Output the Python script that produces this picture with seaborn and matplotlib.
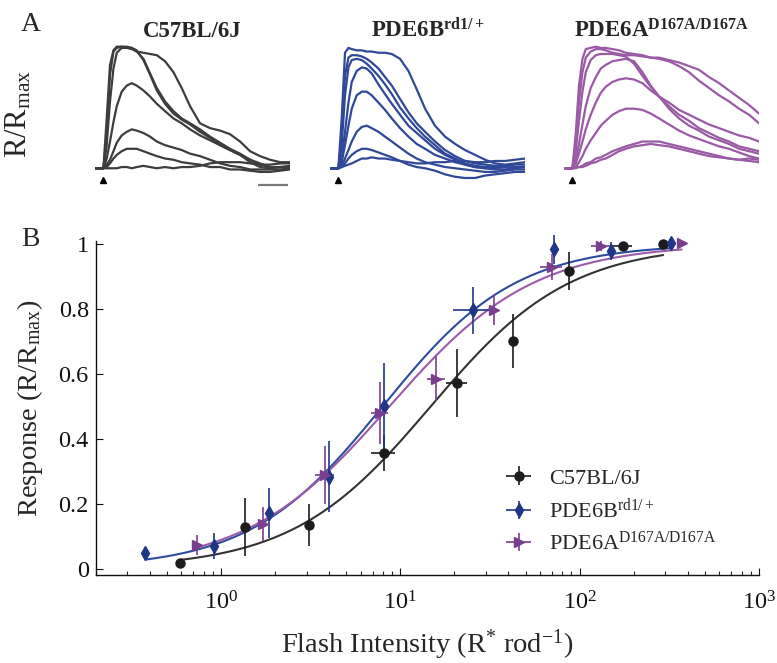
import numpy as np
import pandas as pd
import matplotlib
matplotlib.use("Agg")
import matplotlib.pyplot as plt
from matplotlib.container import ErrorbarContainer
from matplotlib.legend_handler import HandlerErrorbar
import seaborn as sns

# ---------------- Panel A: normalized flash responses (R/Rmax) ----------------
trace_time_ms = [-56, 0, 22, 44, 67, 89, 122, 156, 189, 222, 267, 311, 356, 411,
                 467, 522, 578, 644, 711, 778, 844, 911, 978, 1044, 1111, 1178, 1244]

c57_traces = [
    [0, 0, 0.27, 0.77, 0.96, 0.99, 1.00, 0.99, 0.98, 0.96, 0.95, 0.94, 0.93, 0.88, 0.79, 0.66, 0.51, 0.37, 0.33, 0.31, 0.28, 0.22, 0.14, 0.10, 0.07, 0.05, 0.05],
    [0, 0, 0.41, 0.85, 0.97, 1.00, 1.00, 1.00, 0.99, 0.97, 0.89, 0.77, 0.64, 0.53, 0.45, 0.40, 0.36, 0.30, 0.25, 0.19, 0.15, 0.11, 0.05, 0.01, 0.00, 0.01, 0.01],
    [0, 0, 0.19, 0.55, 0.82, 0.95, 0.99, 0.99, 0.99, 0.96, 0.90, 0.78, 0.66, 0.55, 0.47, 0.41, 0.37, 0.32, 0.26, 0.21, 0.16, 0.12, 0.07, 0.03, 0.01, 0.01, 0.02],
    [0, 0, 0.08, 0.22, 0.38, 0.51, 0.63, 0.68, 0.70, 0.68, 0.64, 0.59, 0.53, 0.47, 0.41, 0.37, 0.32, 0.27, 0.23, 0.19, 0.15, 0.11, 0.07, 0.04, 0.01, 0.01, 0.01],
    [0, 0, 0.03, 0.07, 0.14, 0.21, 0.27, 0.30, 0.32, 0.31, 0.29, 0.26, 0.22, 0.19, 0.17, 0.15, 0.12, 0.10, 0.07, 0.04, 0.02, 0.01, -0.01, -0.01, -0.01, -0.01, 0.00],
    [0, 0, 0.01, 0.04, 0.08, 0.11, 0.14, 0.16, 0.16, 0.16, 0.14, 0.12, 0.10, 0.08, 0.07, 0.05, 0.04, 0.03, 0.01, 0.01, -0.01, -0.01, -0.02, -0.03, -0.03, -0.02, -0.01],
    [0, 0, 0, 0, 0, 0, 0.01, 0.01, 0, 0.01, 0.02, 0.01, 0, 0.01, 0, 0.01, 0.01, 0.02, 0.04, 0.05, 0.05, 0.05, 0.04, 0.03, 0.03, 0.04, 0.04],
]

pde6b_traces = [
    [0, 0, 0.41, 0.95, 0.99, 0.98, 0.97, 0.97, 0.96, 0.96, 0.95, 0.95, 0.94, 0.90, 0.80, 0.65, 0.49, 0.35, 0.26, 0.20, 0.15, 0.11, 0.07, 0.04, 0.03, 0.04, 0.05],
    [0, 0, 0.27, 0.76, 0.91, 0.93, 0.93, 0.92, 0.90, 0.87, 0.82, 0.75, 0.68, 0.57, 0.46, 0.37, 0.30, 0.22, 0.15, 0.10, 0.06, 0.04, 0.03, 0.02, 0.02, 0.03, 0.03],
    [0, 0, 0.19, 0.60, 0.83, 0.89, 0.90, 0.89, 0.86, 0.82, 0.76, 0.69, 0.61, 0.50, 0.41, 0.33, 0.26, 0.19, 0.12, 0.08, 0.04, 0.02, 0.01, 0.01, 0.01, 0.01, 0.01],
    [0, 0, 0.08, 0.30, 0.54, 0.71, 0.80, 0.83, 0.82, 0.78, 0.69, 0.61, 0.53, 0.44, 0.35, 0.29, 0.23, 0.16, 0.11, 0.07, 0.03, 0.01, 0, 0, 0.01, 0.01, 0.01],
    [0, 0, 0.05, 0.19, 0.35, 0.49, 0.60, 0.63, 0.63, 0.60, 0.54, 0.48, 0.41, 0.33, 0.26, 0.20, 0.16, 0.11, 0.08, 0.05, 0.03, 0.01, 0, -0.01, -0.01, 0, 0.01],
    [0, 0, 0.02, 0.08, 0.15, 0.22, 0.30, 0.34, 0.35, 0.33, 0.30, 0.26, 0.22, 0.17, 0.12, 0.08, 0.05, 0.03, 0.01, 0, -0.01, -0.02, -0.03, -0.03, -0.02, -0.01, -0.01],
    [0, 0, 0.01, 0.04, 0.08, 0.11, 0.14, 0.16, 0.16, 0.15, 0.13, 0.11, 0.09, 0.06, 0.03, 0.01, 0, -0.02, -0.05, -0.07, -0.08, -0.08, -0.06, -0.05, -0.04, -0.03, -0.03],
    [0, 0, 0.01, 0.02, 0.03, 0.04, 0.06, 0.08, 0.08, 0.09, 0.08, 0.08, 0.07, 0.06, 0.05, 0.04, 0.04, 0.05, 0.05, 0.06, 0.06, 0.05, 0.05, 0.06, 0.06, 0.07, 0.08],
]

pde6a_traces = [
    [0, 0, 0.28, 0.68, 0.90, 0.98, 0.99, 1.00, 0.99, 0.99, 0.98, 0.97, 0.95, 0.94, 0.93, 0.91, 0.91, 0.89, 0.87, 0.84, 0.81, 0.75, 0.70, 0.64, 0.58, 0.52, 0.45],
    [0, 0, 0.20, 0.55, 0.79, 0.91, 0.96, 0.98, 0.98, 0.97, 0.95, 0.94, 0.93, 0.93, 0.92, 0.91, 0.90, 0.88, 0.84, 0.79, 0.72, 0.66, 0.60, 0.55, 0.49, 0.44, 0.37],
    [0, 0, 0.14, 0.39, 0.63, 0.79, 0.89, 0.93, 0.94, 0.94, 0.94, 0.93, 0.92, 0.86, 0.76, 0.67, 0.59, 0.51, 0.44, 0.39, 0.33, 0.29, 0.25, 0.22, 0.18, 0.16, 0.14],
    [0, 0, 0.06, 0.20, 0.36, 0.51, 0.66, 0.75, 0.82, 0.85, 0.88, 0.89, 0.90, 0.88, 0.79, 0.68, 0.59, 0.49, 0.41, 0.35, 0.31, 0.26, 0.23, 0.20, 0.16, 0.14, 0.12],
    [0, 0, 0.04, 0.12, 0.22, 0.32, 0.44, 0.54, 0.62, 0.67, 0.71, 0.73, 0.74, 0.73, 0.70, 0.64, 0.59, 0.54, 0.48, 0.44, 0.40, 0.36, 0.33, 0.30, 0.27, 0.25, 0.22],
    [0, 0, 0.01, 0.05, 0.10, 0.16, 0.23, 0.29, 0.35, 0.39, 0.44, 0.47, 0.49, 0.49, 0.48, 0.45, 0.41, 0.36, 0.31, 0.27, 0.24, 0.21, 0.18, 0.16, 0.13, 0.10, 0.08],
    [0, 0, 0.01, 0.01, 0.02, 0.04, 0.05, 0.08, 0.09, 0.11, 0.14, 0.16, 0.18, 0.20, 0.22, 0.22, 0.22, 0.20, 0.18, 0.16, 0.14, 0.12, 0.10, 0.08, 0.07, 0.06, 0.05],
    [0, 0, 0, 0.01, 0.01, 0.02, 0.04, 0.05, 0.07, 0.08, 0.11, 0.14, 0.16, 0.18, 0.19, 0.20, 0.19, 0.18, 0.16, 0.14, 0.12, 0.10, 0.09, 0.08, 0.07, 0.08, 0.07],
]

scale_bar_ms = [1033, 1233]

# ---------------- Panel B: intensity-response relations ----------------
strains = ["C57BL/6J", "PDE6B$^{\\mathrm{rd1/+}}$", "PDE6A$^{\\mathrm{D167A/D167A}}$"]
titles = ["C57BL/6J", "PDE6B$^{\\mathbf{rd1/+}}$", "PDE6A$^{\\mathbf{D167A/D167A}}$"]

c57_int = [0.59, 1.36, 3.1, 8.1, 20.8, 42.3, 86.7, 175, 292]
c57_resp = [0.017, 0.128, 0.134, 0.355, 0.571, 0.702, 0.917, 0.994, 1.0]
c57_resp_err = [0, 0.09, 0.065, 0.056, 0.105, 0.083, 0.059, 0.01, 0]
c57_int_err = [0, 0, 0, 1.25, 2.8, 0, 0, 21, 0]

pde6b_int = [0.378, 0.918, 1.84, 3.98, 8.13, 25.5, 71.8, 150, 321]
pde6b_resp = [0.047, 0.07, 0.171, 0.283, 0.502, 0.795, 0.984, 0.979, 1.002]
pde6b_resp_err = [0, 0.04, 0.078, 0.11, 0.13, 0.072, 0.045, 0.027, 0]
pde6b_int_err = [0, 0, 0, 0, 0, 5.9, 0, 0, 0]

pde6a_int = [0.733, 1.72, 3.8, 7.7, 15.9, 33.4, 69.7, 132, 370]
pde6a_resp = [0.073, 0.138, 0.288, 0.48, 0.585, 0.797, 0.928, 0.994, 1.002]
pde6a_resp_err = [0.03, 0.053, 0.088, 0.095, 0.07, 0.046, 0.04, 0.015, 0]
pde6a_int_err = [0, 0, 0.44, 0.8, 1.85, 0, 10, 16.5, 0]

# Hill fits: R/Rmax = I^n / (I^n + I_half^n)
fit_half_sat = [14.8, 7.98, 8.7]
fit_hill_n = [1.12, 1.17, 1.08]

y_ticks = [0, 0.2, 0.4, 0.6, 0.8, 1.0]
y_tick_labels = ["0", "0.2", "0.4", "0.6", "0.8", "1"]
x_ticks = [1, 10, 100, 1000]

trace_colors = ["#3d3d3d", "#2f4898", "#9a5aa6"]
marker_colors = ["#1c1c1c", "#1f3687", "#7a3e8e"]
curve_colors = ["#333333", "#2e4c9e", "#9c5ba9"]
markers = ["o", "d", ">"]
marker_sizes = [6.5, 7.5, 7.5]

# ---------------- style ----------------
sns.set_style("ticks")
plt.rcParams["font.family"] = ["Liberation Serif", "DejaVu Serif"]
plt.rcParams["mathtext.fontset"] = "custom"
plt.rcParams["mathtext.rm"] = "Liberation Serif"
plt.rcParams["mathtext.it"] = "Liberation Serif:italic"
plt.rcParams["mathtext.bf"] = "Liberation Serif:bold"
plt.rcParams["axes.unicode_minus"] = False

W, H = 777, 663
fig = plt.figure(figsize=(W / 100, H / 100), dpi=100)


def fx(px):
    return px / W


def fy(py):
    return 1 - py / H


# ---------------- panel A ----------------
panel_left = [95, 330, 564]
panel_w = 195
a_top, a_bot = 40.6, 186.5
for i, traces in enumerate([c57_traces, pde6b_traces, pde6a_traces]):
    ax = fig.add_axes([fx(panel_left[i]), fy(a_bot), panel_w / W, (a_bot - a_top) / H])
    rows = []
    for k, tr in enumerate(traces):
        for t, r in zip(trace_time_ms, tr):
            rows.append({"time": t, "response": r, "trace": k})
    df = pd.DataFrame(rows)
    sns.lineplot(data=df, x="time", y="response", units="trace", estimator=None,
                 color=trace_colors[i], lw=1.6, ax=ax, legend=False)
    # flash marker
    ax.plot([0], [-0.097], marker="^", ms=4.5, color="black", ls="none", clip_on=False)
    if i == 0:
        ax.plot(scale_bar_ms, [-0.137, -0.137], color="#7a7a7a", lw=1.6,
                solid_capstyle="butt", clip_on=False)
    ax.set_xlim(trace_time_ms[0], trace_time_ms[-1])
    ax.set_ylim(-0.15, 1.05)
    ax.axis("off")
    fig.text(fx(panel_left[i] + panel_w / 2), fy(37), titles[i], ha="center",
             va="baseline", fontsize=16.5, fontweight="bold")

fig.text(fx(21), fy(30.7), "A", fontsize=20, ha="left", va="baseline")
fig.text(fx(19), fy(114), "R/R$_{\\mathrm{max}}$", fontsize=22, rotation=90,
         ha="center", va="center")

# ---------------- panel B ----------------
bx_left, bx_right = 95.7, 759.0
by_top, by_bot = 240.7, 575.0
axb = fig.add_axes([fx(bx_left), fy(by_bot), (bx_right - bx_left) / W, (by_bot - by_top) / H])

datasets = [
    (c57_int, c57_resp, c57_resp_err, c57_int_err),
    (pde6b_int, pde6b_resp, pde6b_resp_err, pde6b_int_err),
    (pde6a_int, pde6a_resp, pde6a_resp_err, pde6a_int_err),
]

fit_rows = []
for i, (xi, yi, ye, xe) in enumerate(datasets):
    grid = np.geomspace(min(xi), max(xi), 300)
    fit = grid ** fit_hill_n[i] / (grid ** fit_hill_n[i] + fit_half_sat[i] ** fit_hill_n[i])
    for g, f in zip(grid, fit):
        fit_rows.append({"intensity": g, "response": f, "strain": strains[i]})
fit_df = pd.DataFrame(fit_rows)
sns.lineplot(data=fit_df, x="intensity", y="response", hue="strain",
             palette=dict(zip(strains, curve_colors)), lw=1.5, ax=axb, legend=False,
             zorder=2)

handles = []
for i, (xi, yi, ye, xe) in enumerate(datasets):
    ye_arr = np.array(ye, dtype=float)
    xe_arr = np.array(xe, dtype=float)
    h = axb.errorbar(xi, yi, yerr=ye_arr, xerr=xe_arr, fmt=markers[i], ls="none",
                     ms=marker_sizes[i], color=marker_colors[i], ecolor=marker_colors[i],
                     elinewidth=1.2, capsize=0, zorder=3, clip_on=False)
    handles.append(h)

axb.set_xscale("log")
axb.set_xlim(0.2, 1000)
axb.set_ylim(-0.02, 1.01)
axb.set_yticks(y_ticks)
axb.set_yticklabels(y_tick_labels)
axb.set_xticks(x_ticks)
axb.tick_params(axis="both", which="major", direction="in", length=5, width=0.8,
                labelsize=17.5, colors="#111111")
axb.tick_params(axis="x", which="major", pad=12)
axb.tick_params(axis="y", which="major", pad=5)
axb.tick_params(axis="x", which="minor", direction="in", length=3, width=0.8)
axb.tick_params(axis="y", which="minor", left=False)
for s in ["top", "right"]:
    axb.spines[s].set_visible(False)
for s in ["left", "bottom"]:
    axb.spines[s].set_linewidth(1.0)
    axb.spines[s].set_color("#111111")
axb.set_xlabel("")
axb.set_ylabel("")

fig.text(fx(37), fy(408), "Response (R/R$_{\\mathrm{max}}$)", fontsize=20.5, rotation=90,
         rotation_mode="anchor", ha="center", va="baseline")
fig.text(fx(427), fy(653), "Flash Intensity (R$^{*}$ rod$^{\\mathrm{-1}}$)", fontsize=20.5,
         ha="center", va="baseline")
fig.text(fx(21), fy(246), "B", fontsize=20, ha="left", va="baseline")

leg = axb.legend(handles, strains, loc="upper left",
                 bbox_to_anchor=(fx(506), fy(468)), bbox_transform=fig.transFigure,
                 frameon=False, fontsize=16, handlelength=1.15, handletextpad=0.8,
                 labelspacing=0.4, borderpad=0, borderaxespad=0,
                 handler_map={ErrorbarContainer: HandlerErrorbar(xerr_size=0.56, yerr_size=0.42)})

fig.savefig("out.png", dpi=100)
